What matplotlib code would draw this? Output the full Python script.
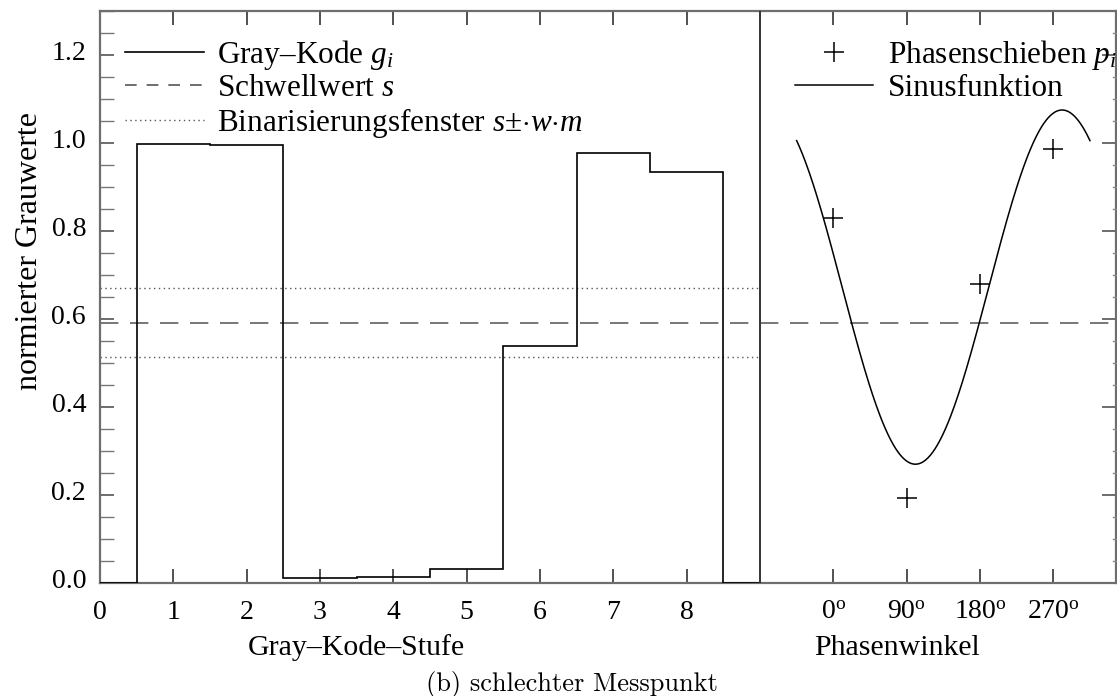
import numpy as np
import matplotlib
matplotlib.use('Agg')
import matplotlib.pyplot as plt
from matplotlib.ticker import FixedLocator, MultipleLocator
from matplotlib.lines import Line2D
import matplotlib.transforms as mtransforms

# ---------------- data ----------------
gray_steps = [0, 1, 2, 3, 4, 5, 6, 7, 8, 9]
gray_values = [0.0, 0.998, 0.995, 0.012, 0.014, 0.031, 0.539, 0.977, 0.934, 0.0]
gray_tick_labels = ['0', '1', '2', '3', '4', '5', '6', '7', '8']
threshold = 0.592
window = 0.078

phase_angles = [0, 90, 180, 270]
phase_tick_labels = [r'0$^{\mathrm{o}}$', r'90$^{\mathrm{o}}$', r'180$^{\mathrm{o}}$', r'270$^{\mathrm{o}}$']
phase_values = [0.830, 0.194, 0.679, 0.986]
# fitted sine
sine_offset = 0.6725
sine_amplitude = 0.4025
sine_max_angle = 280.8          # degrees
sine_range = [-45, 315]         # degrees

# layout constants (x-axis positions)
phase_origin = 10.0             # axis position of 0 degrees
deg_per_unit = 90.0
divider = 9.0
x_max = 13.85
y_max = 1.3

# ---------------- style ----------------
plt.rcParams['font.family'] = ['Liberation Serif', 'DejaVu Serif']
plt.rcParams['mathtext.fontset'] = 'custom'
plt.rcParams['mathtext.rm'] = 'Liberation Serif'
plt.rcParams['mathtext.it'] = 'Liberation Serif:italic'
FS = 20
FS_TITLE = 21.5
FS_LEG = 22.5
FS_YLAB = 23
AX_COL = '#6e6e6e'

W, H = 1117, 696
fig = plt.figure(figsize=(W / 100, H / 100), dpi=100)

# axes in pixel geometry
x0_px, x1_px = 100, 100 + x_max * 73.33
y0_px, y1_px = 583, 583 - y_max * 440
ax = fig.add_axes([x0_px / W, 1 - y0_px / H, (x1_px - x0_px) / W, (y0_px - y1_px) / H])
ax.set_xlim(0, x_max)
ax.set_ylim(0, y_max)

for sp in ax.spines.values():
    sp.set_color(AX_COL)
    sp.set_linewidth(1.6)

# gray code steps
steps = np.array(gray_steps, dtype=float)
edges = np.clip(np.append(steps - 0.5, steps[-1] + 0.5), 0, divider)
ax.stairs(gray_values, edges, color='black', linewidth=1.2, baseline=None, zorder=3)

# divider
ax.axvline(divider, color='#333333', linewidth=1.4, zorder=3)

# threshold and window
ax.plot([0, x_max], [threshold, threshold], color='#606060', linewidth=1.2,
        dashes=(11, 7), zorder=2)
ax.plot([0, divider], [threshold + window] * 2, color='#555555', linewidth=1.0,
        dashes=(1, 2.5), zorder=2)
ax.plot([0, divider], [threshold - window] * 2, color='#555555', linewidth=1.0,
        dashes=(1, 2.5), zorder=2)

# phase shift samples
phase_x = [phase_origin + a / deg_per_unit for a in phase_angles]
ax.plot(phase_x, phase_values, linestyle='none', marker='+', markersize=14,
        markeredgewidth=1.1, color='black', zorder=4)

# sine function
theta = np.linspace(sine_range[0], sine_range[1], 400)
sine_y = sine_offset + sine_amplitude * np.cos(np.deg2rad(theta - sine_max_angle))
ax.plot(phase_origin + theta / deg_per_unit, sine_y, color='black', linewidth=1.1, zorder=4)

# ---------------- ticks ----------------
xt = list(range(len(gray_tick_labels))) + phase_x
xl = gray_tick_labels + phase_tick_labels
ax.xaxis.set_major_locator(FixedLocator(xt))
ax.set_xticklabels(xl, fontsize=FS)
ax.tick_params(axis='x', which='major', direction='in', length=10, width=1.2,
               color='#333333', top=True, bottom=True, pad=12)
ax.set_yticks(np.arange(0, 1.21, 0.2))
ax.yaxis.set_minor_locator(MultipleLocator(0.05))
ax.set_yticklabels(['%.1f' % v for v in np.arange(0, 1.21, 0.2)], fontsize=FS)
ax.tick_params(axis='y', which='major', direction='in', length=10, width=1.2,
               color='#555555', left=True, right=True, pad=10)
ax.tick_params(axis='y', which='minor', direction='in', length=10, width=1.0,
               color='#777777', left=True, right=False)
# right side small minor ticks
for v in np.arange(0.05, 1.3, 0.05):
    if abs(v / 0.2 - round(v / 0.2)) > 1e-6:
        ax.plot([x_max - 0.03, x_max], [v, v], color='#888888', linewidth=1.0,
                clip_on=False, zorder=5)
# y tick labels shifted a bit up
off = mtransforms.ScaledTranslation(0, 3 / 72, fig.dpi_scale_trans)
for lab in ax.get_yticklabels():
    lab.set_transform(lab.get_transform() + off)

# ---------------- labels ----------------
fig.text(30 / W, 1 - 251 / H, 'normierter Grauwerte', rotation=90,
         ha='center', va='center', fontsize=FS_YLAB)
fig.text(356 / W, 1 - 648 / H, 'Gray–Kode–Stufe', ha='center', va='center', fontsize=FS_TITLE)
fig.text(897 / W, 1 - 648 / H, 'Phasenwinkel', ha='center', va='center', fontsize=FS_TITLE)
fig.text(572 / W, 1 - 684 / H, '(b) schlechter Messpunkt', ha='center', va='center',
         fontsize=19, family='cmr10')

# ---------------- legends ----------------
h1 = [Line2D([], [], color='black', linewidth=1.2),
      Line2D([], [], color='#555555', linewidth=1.2, dashes=(7, 6)),
      Line2D([], [], color='#555555', linewidth=1.0, dashes=(1, 2.5))]
t1 = [r'Gray–Kode $g_{i}$', r'Schwellwert $s$', r'Binarisierungsfenster $s{\pm}{\cdot}w{\cdot}m$']
leg1 = ax.legend(h1, t1, loc='upper left', bbox_to_anchor=(0.012, 0.975), frameon=False,
                 fontsize=FS_LEG, handlelength=2.55, handletextpad=0.42, labelspacing=0.08,
                 borderaxespad=0)
ax.add_artist(leg1)
h2 = [Line2D([], [], color='black', linestyle='none', marker='+', markersize=14,
             markeredgewidth=1.1),
      Line2D([], [], color='black', linewidth=1.1)]
t2 = [r'Phasenschieben $p_{i}$', 'Sinusfunktion']
ax.legend(h2, t2, loc='upper left', bbox_to_anchor=(0.672, 0.975), frameon=False,
          fontsize=FS_LEG, handlelength=2.5, handletextpad=0.48, labelspacing=0.08,
          borderaxespad=0)

fig.savefig('out.png', dpi=100)
